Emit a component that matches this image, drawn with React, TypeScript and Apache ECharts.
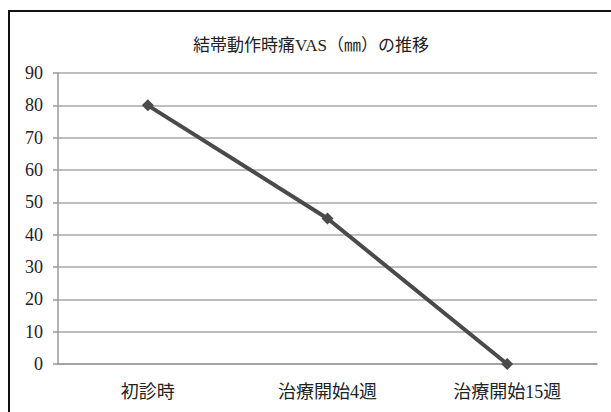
import React, { useEffect, useRef } from "react";
import * as echarts from "echarts";

const categories = ["初診時", "治療開始4週", "治療開始15週"];
const values = [80, 45, 0];
const titleText = "結帯動作時痛VAS（㎜）の推移";

const FONT = "'Liberation Serif', 'DejaVu Serif', 'Noto Sans CJK JP', serif";

export default function App() {
  const ref = useRef<HTMLDivElement>(null);
  useEffect(() => {
    if (!ref.current) return;
    const chart = echarts.init(ref.current, undefined, { renderer: "svg" });
    chart.setOption({
      animation: false,
      backgroundColor: "#ffffff",
      title: {
        text: titleText,
        left: 306,
        top: 32,
        textAlign: "center",
        textStyle: { fontFamily: FONT, fontSize: 17, fontWeight: "normal", color: "#222" },
      },
      grid: { left: 58, right: 14, top: 73, bottom: 48, containLabel: false },
      xAxis: {
        type: "category",
        data: categories,
        boundaryGap: true,
        axisLine: { show: true, lineStyle: { color: "#9a9a9a", width: 1.5 } },
        axisTick: { show: false },
        axisLabel: { fontFamily: FONT, fontSize: 18, color: "#222", margin: 19 },
      },
      yAxis: {
        type: "value",
        min: 0,
        max: 90,
        interval: 10,
        axisLine: { show: true, lineStyle: { color: "#9a9a9a", width: 1.5 } },
        axisTick: { show: true, length: 5, lineStyle: { color: "#9a9a9a", width: 1.5 } },
        axisLabel: { fontFamily: FONT, fontSize: 18, color: "#222", margin: 15 },
        splitLine: { show: true, lineStyle: { color: "#a8a8a8", width: 1.5 } },
      },
      series: [
        {
          type: "line",
          data: values,
          symbol: "diamond",
          symbolSize: 12,
          lineStyle: { color: "#4a4a4a", width: 4 },
          itemStyle: { color: "#4a4a4a" },
        },
      ],
      graphic: [
        {
          type: "rect",
          shape: { x: 9, y: 11, width: 800, height: 600 },
          style: { fill: "none", stroke: "#111", lineWidth: 2 },
          silent: true,
        },
      ],
    });
    return () => chart.dispose();
  }, []);
  return (
    <div
      ref={ref}
      style={{ position: "fixed", left: 0, top: 0, width: 611, height: 412 }}
    />
  );
}
